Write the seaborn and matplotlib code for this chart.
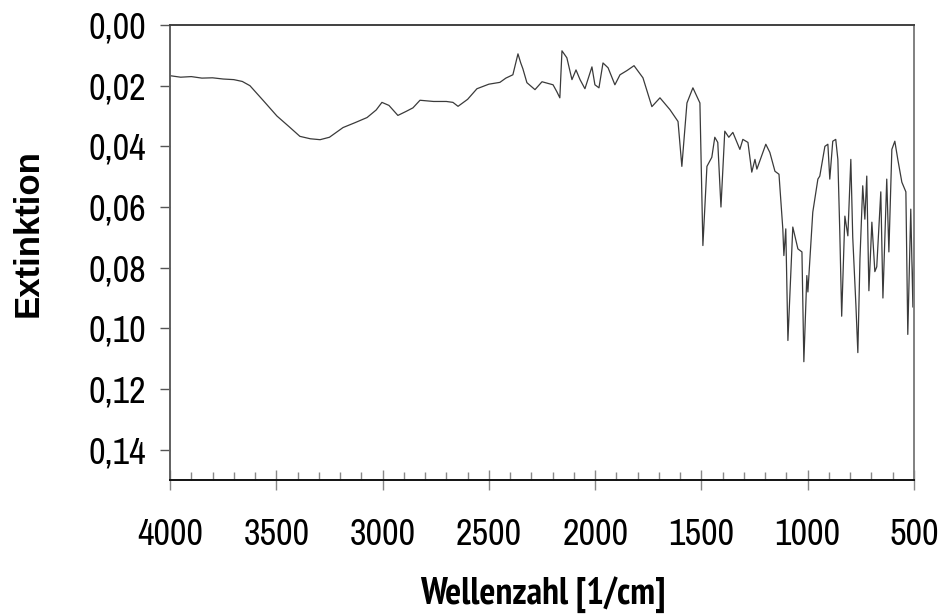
import numpy as np
import pandas as pd
import matplotlib
matplotlib.use('Agg')
import matplotlib.pyplot as plt
import seaborn as sns
from matplotlib import font_manager
from matplotlib.ticker import FuncFormatter, MultipleLocator

# Spektrum
wellenzahl = [4000, 3950, 3900, 3850, 3800, 3750, 3700, 3660, 3624, 3560,
              3497, 3440, 3389, 3340, 3294, 3250, 3186, 3130, 3073, 3030,
              3003, 2970, 2928, 2890, 2857, 2824, 2760, 2700, 2669, 2645,
              2600, 2556, 2500, 2448, 2420, 2387, 2363, 2350, 2340, 2321,
              2283, 2250, 2198, 2180, 2166, 2156, 2133, 2109, 2090, 2071,
              2048, 2015, 2001, 1982, 1963, 1939, 1907, 1883, 1850, 1817,
              1775, 1733, 1695, 1648, 1610, 1592, 1568, 1540, 1507, 1493,
              1474, 1451, 1437, 1423, 1408, 1390, 1371, 1352, 1319, 1305,
              1281, 1263, 1248, 1239, 1197, 1178, 1154, 1135, 1117, 1112,
              1103, 1093, 1070, 1046, 1027, 1018, 1004, 999, 976, 952,
              943, 919, 905, 896, 882, 868, 858, 849, 840, 825,
              811, 797, 788, 773, 764, 754, 741, 731, 722, 712,
              698, 684, 675, 656, 646, 628, 618, 604, 590, 576,
              557, 538, 529, 515, 505, 500]
extinktion = [0.0167, 0.0172, 0.0170, 0.0175, 0.0174, 0.0178, 0.0180, 0.0186, 0.0200, 0.0250,
              0.0300, 0.0335, 0.0367, 0.0375, 0.0378, 0.0370, 0.0338, 0.0322, 0.0305, 0.0280,
              0.0255, 0.0265, 0.0298, 0.0285, 0.0273, 0.0248, 0.0252, 0.0252, 0.0255, 0.0268,
              0.0245, 0.0210, 0.0195, 0.0189, 0.0175, 0.0164, 0.0095, 0.0125, 0.0144, 0.0190,
              0.0213, 0.0187, 0.0197, 0.0220, 0.0240, 0.0085, 0.0108, 0.0180, 0.0148, 0.0180,
              0.0210, 0.0138, 0.0197, 0.0207, 0.0125, 0.0141, 0.0197, 0.0164, 0.0150, 0.0134,
              0.0174, 0.0269, 0.0240, 0.0279, 0.0318, 0.0466, 0.0257, 0.0207, 0.0257, 0.0727,
              0.0466, 0.0436, 0.0370, 0.0387, 0.0600, 0.0350, 0.0370, 0.0354, 0.0410, 0.0377,
              0.0387, 0.0485, 0.0443, 0.0475, 0.0393, 0.0420, 0.0482, 0.0492, 0.0672, 0.0760,
              0.0672, 0.1040, 0.0666, 0.0738, 0.0748, 0.1110, 0.0826, 0.0880, 0.0617, 0.0508,
              0.0498, 0.0400, 0.0393, 0.0508, 0.0383, 0.0377, 0.0443, 0.0680, 0.0960, 0.0630,
              0.0695, 0.0443, 0.0700, 0.0925, 0.1080, 0.0770, 0.0530, 0.0640, 0.0498, 0.0876,
              0.0650, 0.0813, 0.0797, 0.0550, 0.0900, 0.0508, 0.0748, 0.0410, 0.0383, 0.0443,
              0.0518, 0.0550, 0.1020, 0.0607, 0.0930, 0.0700]

x_ticks = [4000, 3500, 3000, 2500, 2000, 1500, 1000, 500]
y_ticks = [0.00, 0.02, 0.04, 0.06, 0.08, 0.10, 0.12, 0.14]

df = pd.DataFrame({'Wellenzahl': wellenzahl, 'Extinktion': extinktion})

# schmale Schrift suchen (Arial Narrow-artig), fuer den Achsentitel eine mit Fettschnitt
kandidaten = ['Liberation Sans Narrow', 'Arial Narrow', 'Archivo Narrow',
              'PT Sans Narrow', 'Roboto Condensed', 'Pragati Narrow', 'Arimo']
schriften = font_manager.fontManager.ttflist
vorhanden = set(f.name for f in schriften)
fett = set(f.name for f in schriften if f.weight in (700, 'bold'))
schmal = next((k for k in kandidaten if k in vorhanden), 'Liberation Sans')
schmal_fett = next((k for k in kandidaten if k in fett), 'Liberation Sans')

sns.set_style('ticks')
plt.rcParams['font.family'] = [schmal, 'Liberation Sans', 'DejaVu Sans']

fig = plt.figure(figsize=(9.43, 6.15), dpi=100)
ax = fig.add_axes([0.1803, 0.2195, 0.7889, 0.7398])

sns.lineplot(data=df, x='Wellenzahl', y='Extinktion', ax=ax, estimator=None,
             color='#3a3a3a', linewidth=0.9)

ax.set_xlim(4000, 500)
ax.set_ylim(0.15, 0.0)
ax.set_xticks(x_ticks)
ax.set_yticks(y_ticks)
ax.xaxis.set_minor_locator(MultipleLocator(100))
ax.yaxis.set_major_formatter(FuncFormatter(lambda v, p: f'{v:.2f}'.replace('.', ',')))
ax.xaxis.set_major_formatter(FuncFormatter(lambda v, p: f'{int(v)}'))

ax.tick_params(axis='y', which='major', direction='out', length=7, width=1,
               color='#555555', labelcolor='black', labelsize=26, pad=10)
ax.tick_params(axis='x', which='major', direction='inout', length=15, width=1,
               color='#888888', labelcolor='black', labelsize=26, pad=20)
ax.tick_params(axis='x', which='minor', direction='in', length=6, width=1,
               color='#888888')

for side in ['top', 'right', 'bottom', 'left']:
    ax.spines[side].set_visible(True)
ax.spines['top'].set_color('#404040')
ax.spines['top'].set_linewidth(1.4)
ax.spines['left'].set_color('#606060')
ax.spines['left'].set_linewidth(1.4)
ax.spines['right'].set_color('#808080')
ax.spines['right'].set_linewidth(1.4)
ax.spines['bottom'].set_color('#111111')
ax.spines['bottom'].set_linewidth(1.4)

ax.set_xlabel('Wellenzahl [1/cm]', fontsize=27, fontweight='bold', color='black',
              family=[schmal_fett, 'Liberation Sans', 'DejaVu Sans'])
ax.xaxis.set_label_coords(0.5007, -0.212)
ax.xaxis.label.set_va('top')
ax.set_ylabel('Extinktion', fontsize=25, fontweight='bold', color='black',
              family=['Liberation Sans', 'DejaVu Sans'])
ax.yaxis.set_label_coords(-0.168, 0.543)

plt.savefig('out.png', dpi=100)
plt.close()
